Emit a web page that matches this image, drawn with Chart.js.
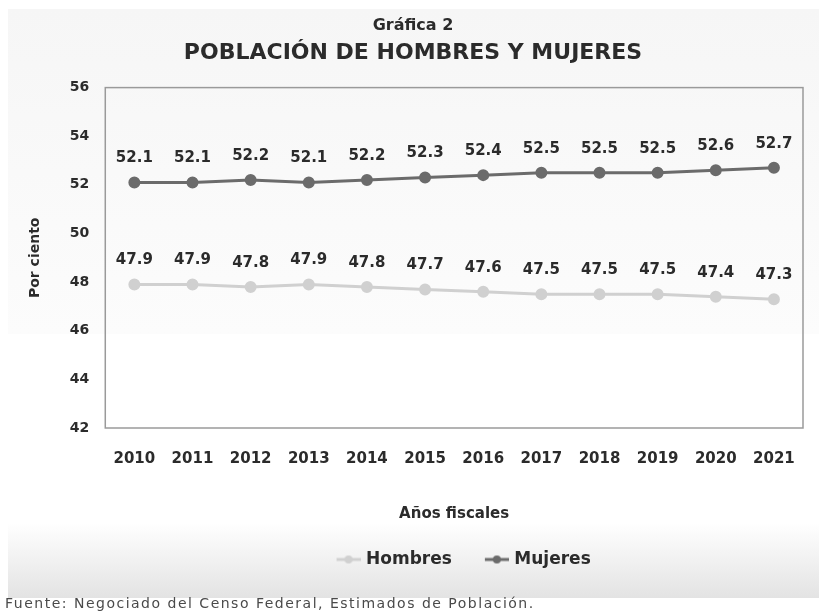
<!DOCTYPE html>
<html>
<head>
<meta charset="utf-8">
<script src="https://cdn.jsdelivr.net/npm/chart.js@4"></script>
<style>
  html, body { margin: 0; padding: 0; background: #ffffff; }
  #wrap { width: 819px; height: 616px; position: relative; }
</style>
</head>
<body>
<div id="wrap"><canvas id="grafica"></canvas></div>
<script>
/* =========================
   DATOS
========================= */

const years = ["2010", "2011", "2012", "2013", "2014", "2015", "2016", "2017", "2018", "2019", "2020", "2021"];
const hombres = [47.9, 47.9, 47.8, 47.9, 47.8, 47.7, 47.6, 47.5, 47.5, 47.5, 47.4, 47.3];
const mujeres = [52.1, 52.1, 52.2, 52.1, 52.2, 52.3, 52.4, 52.5, 52.5, 52.5, 52.6, 52.7];
const yTicks = [42, 44, 46, 48, 50, 52, 54, 56];

const FONT = "'DejaVu Sans', Verdana, sans-serif";
const TEXT = "#2b2b2b";
const COLOR_H = "#d0d0d0";
const COLOR_M = "#6b6b6b";

/* =========================
   PLUGINS
========================= */

// fondos grises degradados (arriba y abajo)
const panelBg = {
  id: "panelBg",
  beforeDraw(chart) {
    const ctx = chart.ctx;
    ctx.save();
    ctx.fillStyle = "#ffffff";
    ctx.fillRect(0, 0, chart.width, chart.height);

    const top = ctx.createLinearGradient(0, 9, 0, 334);
    top.addColorStop(0, "#f6f6f6");
    top.addColorStop(1, "#fcfcfc");
    ctx.fillStyle = top;
    ctx.fillRect(8, 9, chart.width - 8, 325);

    const bottom = ctx.createLinearGradient(0, 523, 0, 598);
    bottom.addColorStop(0, "#ffffff");
    bottom.addColorStop(1, "#e3e3e3");
    ctx.fillStyle = bottom;
    ctx.fillRect(8, 523, chart.width - 8, 75);
    ctx.restore();
  }
};

// valores encima de cada punto
const pointLabels = {
  id: "pointLabels",
  afterDatasetsDraw(chart) {
    const ctx = chart.ctx;
    ctx.save();
    ctx.font = "bold 15px " + FONT;
    ctx.fillStyle = TEXT;
    ctx.textAlign = "center";
    ctx.textBaseline = "middle";
    chart.data.datasets.forEach((ds, i) => {
      chart.getDatasetMeta(i).data.forEach((pt, j) => {
        ctx.fillText(ds.data[j].toFixed(1), pt.x, pt.y - 24);
      });
    });
    ctx.restore();
  }
};

// marco del área de trazado + fuente
const frameAndSource = {
  id: "frameAndSource",
  afterDraw(chart) {
    const ctx = chart.ctx;
    const a = chart.chartArea;
    ctx.save();
    ctx.strokeStyle = "#9a9a9a";
    ctx.lineWidth = 1.5;
    ctx.strokeRect(a.left, a.top, a.right - a.left, a.bottom - a.top);
    ctx.font = "14px " + FONT;
    ctx.letterSpacing = "1.5px";
    ctx.fillStyle = "#4a4a4a";
    ctx.textAlign = "left";
    ctx.textBaseline = "middle";
    ctx.fillText("Fuente: Negociado del Censo Federal, Estimados de Población.", 5, 604);
    ctx.letterSpacing = "0px";
    ctx.restore();
  }
};

// símbolo de la leyenda: línea con punto, pegado al texto
function legendSymbol(color) {
  const c = document.createElement("canvas");
  c.width = 46; c.height = 12;
  const x = c.getContext("2d");
  x.strokeStyle = color;
  x.lineWidth = 3;
  x.beginPath(); x.moveTo(22, 6); x.lineTo(46, 6); x.stroke();
  x.fillStyle = color;
  x.beginPath(); x.arc(34, 6, 4, 0, Math.PI * 2); x.fill();
  return c;
}

/* =========================
   GRÁFICA
========================= */

new Chart(document.getElementById("grafica"), {
  type: "line",
  data: {
    labels: years,
    datasets: [
      {
        label: "Hombres",
        data: hombres,
        borderColor: COLOR_H,
        backgroundColor: COLOR_H,
        borderWidth: 3,
        pointRadius: 4.5,
        pointStyle: "circle",
        legendSymbol: legendSymbol(COLOR_H)
      },
      {
        label: "Mujeres",
        data: mujeres,
        borderColor: COLOR_M,
        backgroundColor: COLOR_M,
        borderWidth: 3,
        pointRadius: 4.5,
        pointStyle: "circle",
        legendSymbol: legendSymbol(COLOR_M)
      }
    ]
  },
  options: {
    responsive: true,
    maintainAspectRatio: false,
    animation: false,
    layout: { padding: { left: 23, right: 16, top: 12, bottom: 38 } },
    plugins: {
      title: {
        display: true,
        text: "Gráfica 2",
        color: TEXT,
        font: { family: FONT, size: 16, weight: "bold" },
        padding: { top: 4, bottom: 5 }
      },
      subtitle: {
        display: true,
        text: "POBLACIÓN DE HOMBRES Y MUJERES",
        color: TEXT,
        font: { family: FONT, size: 22, weight: "bold" },
        padding: { top: 0, bottom: 21 }
      },
      legend: {
        position: "bottom",
        fullSize: false,
        labels: {
          color: TEXT,
          font: { family: FONT, size: 17, weight: "bold" },
          usePointStyle: true,
          pointStyleWidth: 40,
          padding: 14,
          generateLabels(chart) {
            return chart.data.datasets.map((ds, i) => ({
              text: ds.label,
              pointStyle: ds.legendSymbol,
              fillStyle: ds.borderColor,
              strokeStyle: ds.borderColor,
              fontColor: TEXT,
              lineWidth: 0,
              datasetIndex: i,
              hidden: false
            }));
          }
        }
      },
      tooltip: { enabled: false }
    },
    scales: {
      x: {
        offset: true,
        grid: { display: false, drawTicks: false },
        border: { display: false },
        ticks: {
          color: TEXT,
          font: { family: FONT, size: 15, weight: "bold" },
          padding: 22,
          maxRotation: 0
        },
        title: {
          display: true,
          text: "Años fiscales",
          color: TEXT,
          font: { family: FONT, size: 15, weight: "bold" },
          padding: { top: 15, bottom: 14 }
        }
      },
      y: {
        min: 42,
        max: 56,
        afterBuildTicks(axis) {
          axis.ticks = yTicks.map(v => ({ value: v }));
        },
        grid: { display: false, drawTicks: false },
        border: { display: false },
        ticks: {
          color: TEXT,
          font: { family: FONT, size: 14, weight: "bold" },
          padding: 16
        },
        title: {
          display: true,
          text: "Por ciento",
          color: TEXT,
          font: { family: FONT, size: 14, weight: "bold" },
          padding: { bottom: 10 }
        }
      }
    }
  },
  plugins: [panelBg, pointLabels, frameAndSource]
});
</script>
</body>
</html>
